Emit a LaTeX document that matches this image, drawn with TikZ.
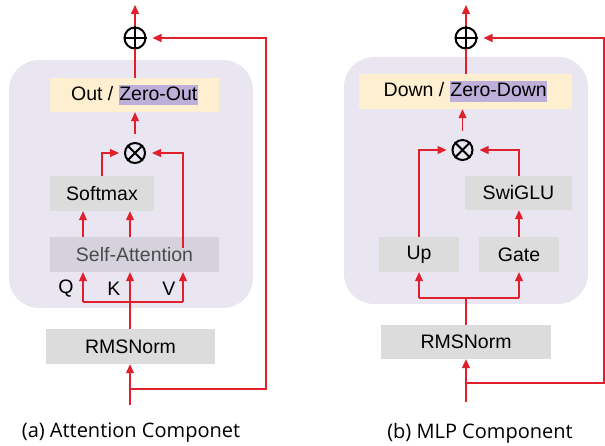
\documentclass[tikz,border=0pt]{standalone}
\usepackage{fontspec}
\setmainfont{Liberation Sans}
\newfontfamily\capfont{Open Sans}
\usetikzlibrary{arrows.meta}
\definecolor{panelc}{HTML}{E9E6F1}
\definecolor{boxgray}{HTML}{DCDCDC}
\definecolor{safill}{HTML}{D5D2DE}
\definecolor{beige}{HTML}{FDEFD0}
\definecolor{hlc}{HTML}{BDAFD9}
\definecolor{arrred}{HTML}{E0202B}
\definecolor{satext}{HTML}{4A4A4A}
\newcommand{\hlbox}[1]{{\setlength{\fboxsep}{0.5pt}\colorbox{hlc}{\rule[-0.22em]{0pt}{1.0em}#1}}}
\tikzset{
  box/.style={fill=boxgray, inner sep=0pt, font=\fontsize{19.5}{23}\selectfont},
  panel/.style={fill=panelc, rounded corners=30pt},
  ln/.style={draw=arrred, line width=1.1pt},
  arr/.style={ln, -{Triangle[length=9pt,width=8pt]}},
  opcirc/.style={circle, draw=black, line width=2pt, minimum size=21pt, inner sep=0pt},
  lbl/.style={font=\fontsize{19.5}{23}\selectfont, inner sep=0pt},
  captext/.style={font=\capfont\fontsize{20}{24}\selectfont, inner sep=0pt}
}
\begin{document}
\begin{tikzpicture}[x=1pt,y=-1pt]
\useasboundingbox (0,0) rectangle (605,446);
% ---------------- panel (a) ----------------
\fill[panel] (9,60) rectangle (253,308);
\node[opcirc] (plusA) at (135,38) {};
\draw[line width=2pt] (plusA.north) -- (plusA.south) (plusA.west) -- (plusA.east);
\node[box, fill=beige, minimum width=169pt, minimum height=34pt] (outA) at (134.5,95) {Out / \hlbox{Zero-Out}};
\node[opcirc, minimum size=20pt] (timesA) at (135,153) {};
\draw[line width=2pt] (timesA.north west) -- (timesA.south east) (timesA.north east) -- (timesA.south west);
\node[box, minimum width=104pt, minimum height=35pt] (softA) at (102,193.5) {Softmax};
\node[box, fill=safill, text=satext, minimum width=169pt, minimum height=35pt] (saA) at (134.5,254.5) {Self-Attention};
\node[box, minimum width=169pt, minimum height=35pt] (rmsA) at (130.5,346.5) {RMSNorm};
\node[lbl] (qlab) at (66,289) {Q};
\node[lbl] (klab) at (114,289) {K};
\node[lbl] (vlab) at (169,289) {V};
\node[captext] (capA) at (131,433) {(a) Attention Componet};
\coordinate (qA) at (83,302);
\coordinate (vA) at (183,302);
\coordinate (kA) at (130,302);
\coordinate (vinA) at (183,248);
\coordinate (inA) at (130,405);
\coordinate (resA) at (130,389);
\coordinate (rA) at (266,389);
\coordinate (topA) at (135,5);
\draw[arr] (plusA.north) -- (topA);
\draw[ln] (outA.north -| plusA) -- (plusA.south);
\draw[arr, shorten <=8pt] (timesA.north) -- (timesA.north |- outA.south);
\draw[arr, shorten >=5pt] (softA.north) |- (timesA.west);
\draw[arr, shorten >=6pt] (vinA) |- (timesA.east);
\draw[arr] (saA.north -| qA) -- (softA.south -| qA);
\draw[arr] (saA.north -| kA) -- (softA.south -| kA);
\draw[ln] (qA) -- (vA);
\draw[arr] (qA) -- (qA |- saA.south);
\draw[arr] (vA) -- (vA |- saA.south);
\draw[arr] (rmsA.north -| kA) -- (saA.south -| kA);
\draw[arr] (inA) -- (rmsA.south -| inA);
\draw[arr, shorten >=6pt] (resA) -- (rA) |- (plusA.east);
% ---------------- panel (b) ----------------
\fill[panel] (344,57) rectangle (588,304);
\node[opcirc] (plusB) at (466,38) {};
\draw[line width=2pt] (plusB.north) -- (plusB.south) (plusB.west) -- (plusB.east);
\node[box, fill=beige, minimum width=213pt, minimum height=35pt] (downB) at (465.5,91.5) {Down / \hlbox{Zero-Down}};
\node[opcirc, minimum size=20pt] (timesB) at (462.5,150) {};
\draw[line width=2pt] (timesB.north west) -- (timesB.south east) (timesB.north east) -- (timesB.south west);
\node[box, minimum width=107pt, minimum height=34pt] (swiB) at (518.5,193) {SwiGLU};
\node[box, minimum width=80pt, minimum height=35pt] (upB) at (419,254.5) {Up};
\node[box, minimum width=80pt, minimum height=35pt] (gateB) at (519,254.5) {Gate};
\node[box, minimum width=170pt, minimum height=34pt] (rmsB) at (466,342) {RMSNorm};
\node[captext] (capB) at (480,433) {(b) MLP Component};
\coordinate (splitB) at (466,298);
\coordinate (inB) at (466,402);
\coordinate (resB) at (466,383);
\coordinate (rB) at (604,383);
\coordinate (topB) at (466,5);
\draw[arr] (plusB.north) -- (topB);
\draw[ln] (downB.north -| plusB) -- (plusB.south);
\draw[arr, shorten <=8pt] (timesB.north) -- (timesB.north |- downB.south);
\draw[arr, shorten >=5pt] (upB.north) |- (timesB.west);
\draw[arr, shorten >=6pt] (swiB.north -| gateB) |- (timesB.east);
\draw[arr] (gateB.north) -- (swiB.south -| gateB);
\draw[ln] (splitB -| upB) -- (splitB -| gateB);
\draw[arr] (splitB -| upB) -- (upB.south);
\draw[arr] (splitB -| gateB) -- (gateB.south);
\draw[ln] (rmsB.north) -- (splitB);
\draw[arr] (inB) -- (rmsB.south);
\draw[arr, shorten >=6pt] (resB) -- (rB) |- (plusB.east);
\end{tikzpicture}
\end{document}
